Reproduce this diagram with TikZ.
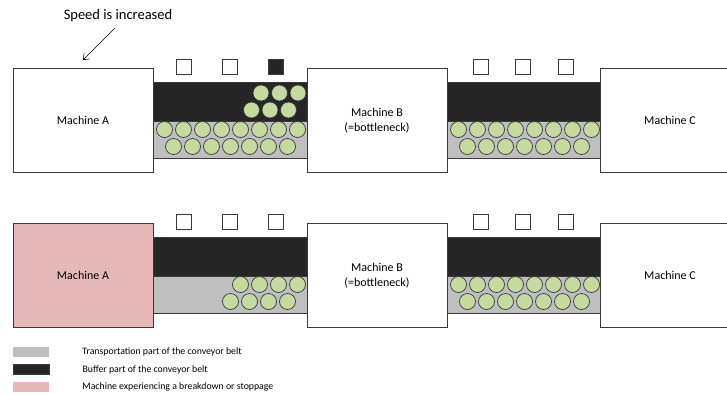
\documentclass[tikz,border=0pt]{standalone}
\usepackage{fontspec}
\setmainfont{Carlito}
\usetikzlibrary{arrows.meta,positioning}

\definecolor{bufferblack}{HTML}{262626}
\definecolor{transgray}{HTML}{BFBFBF}
\definecolor{itemgreen}{HTML}{C5D9A0}
\definecolor{breakpink}{HTML}{E6B9B8}
\definecolor{edgegray}{HTML}{3A3A3A}

\begin{document}
\begin{tikzpicture}[
  x=1pt, y=-1pt,
  machine/.style={draw=edgegray, line width=0.9pt, fill=white, align=center, inner sep=0pt,
    minimum width=140pt, minimum height=104pt, font=\fontsize{12}{15}\selectfont},
  buffer/.style={draw=edgegray, line width=0.7pt, fill=bufferblack},
  transport/.style={draw=edgegray, line width=0.7pt, fill=transgray},
  item/.style={draw=edgegray, line width=0.7pt, fill=itemgreen},
  sensor/.style={draw=edgegray, line width=0.7pt, fill=white, minimum size=15pt, inner sep=0pt},
  swatch/.style={minimum width=36pt, minimum height=10pt, inner sep=0pt},
  legtext/.style={anchor=west, inner sep=0pt, font=\fontsize{9.8}{11}\selectfont},
  arrow/.style={-{Straight Barb[length=5pt,width=8pt]}, line width=0.6pt}
]
\useasboundingbox (0,0) rectangle (727,394);

% top row: higher speed at machine A
\node[font=\fontsize{14.5}{17}\selectfont] (speed) at (118,16) {Speed is increased};
\coordinate (arrStart) at (115,28);
\coordinate (arrEnd) at (83,60);
\draw[arrow] (arrStart) -- (arrEnd);

\foreach \bx/\bw in {153/154, 447/153} {
  \draw[buffer] (\bx,82) rectangle (\bx+\bw,121);
  \draw[transport] (\bx,121) rectangle (\bx+\bw,158);
  \foreach \i in {0,...,7} \draw[item] (\bx+11.5+19*\i,129.5) circle (8);
  \foreach \i in {0,...,6} \draw[item] (\bx+20.5+19*\i,146.5) circle (8);
}
\foreach \cx in {261,279.5,298} \draw[item] (\cx,93) circle (8);
\foreach \cx in {251.5,270,288.5} \draw[item] (\cx,110) circle (8);

\node[sensor] (s1a) at (183.5,66.5) {};
\node[sensor] (s1b) at (230,66.5) {};
\node[sensor, fill=bufferblack] (s1c) at (276,66.5) {};
\node[sensor] (s2a) at (481,66.5) {};
\node[sensor] (s2b) at (522.5,66.5) {};
\node[sensor] (s2c) at (566,66.5) {};

\node[machine] (machA) at (83,120.5) {Machine A};
\node[machine] (machB) at (377,120.5) {Machine B\\(=bottleneck)};
\node[machine] (machC) at (670,120.5) {Machine C};

% bottom row: machine A stops
\begin{scope}[shift={(0,155)}]
\foreach \bx/\bw in {153/154, 447/153} {
  \draw[buffer] (\bx,82) rectangle (\bx+\bw,121);
  \draw[transport] (\bx,121) rectangle (\bx+\bw,158);
}
\foreach \i in {4,...,7} \draw[item] (153+11.5+19*\i,129.5) circle (8);
\foreach \i in {3,...,6} \draw[item] (153+20.5+19*\i,146.5) circle (8);
\foreach \i in {0,...,7} \draw[item] (447+11.5+19*\i,129.5) circle (8);
\foreach \i in {0,...,6} \draw[item] (447+20.5+19*\i,146.5) circle (8);

\node[sensor] (t1a) at (183.5,66.5) {};
\node[sensor] (t1b) at (230,66.5) {};
\node[sensor] (t1c) at (276,66.5) {};
\node[sensor] (t2a) at (481,66.5) {};
\node[sensor] (t2b) at (522.5,66.5) {};
\node[sensor] (t2c) at (566,66.5) {};

\node[machine, fill=breakpink] (stopA) at (83,120.5) {Machine A};
\node[machine] (stopB) at (377,120.5) {Machine B\\(=bottleneck)};
\node[machine] (stopC) at (670,120.5) {Machine C};
\end{scope}

% legend
\node[swatch, fill=transgray] (legGray) at (31,352) {};
\node[swatch, fill=bufferblack, draw=edgegray, line width=0.7pt] (legBlack) at (31,369.5) {};
\node[swatch, fill=breakpink] (legPink) at (31,387) {};
\node[legtext, right=33pt of legGray] {Transportation part of the conveyor belt};
\node[legtext, right=33pt of legBlack] {Buffer part of the conveyor belt};
\node[legtext, right=33pt of legPink] {Machine experiencing a breakdown or stoppage};
\end{tikzpicture}
\end{document}
